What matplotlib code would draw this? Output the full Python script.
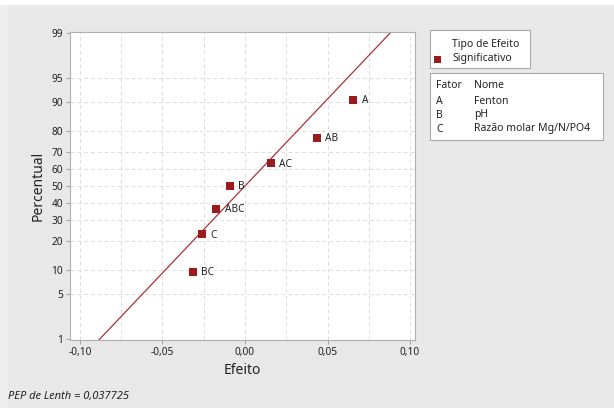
from statistics import NormalDist

import matplotlib
matplotlib.use('Agg')
import matplotlib.pyplot as plt
from matplotlib.patches import Rectangle

plt.rcParams['font.family'] = ['Noto Sans', 'DejaVu Sans']

# effects and their normal-plot percentiles
terms = ['BC', 'C', 'ABC', 'B', 'AC', 'AB', 'A']
effects = [-0.0317, -0.0259, -0.0174, -0.0093, 0.0158, 0.0435, 0.0656]
percents = [9.5, 23.0, 36.5, 50.0, 63.5, 77.0, 90.5]
pse = 0.037725

y_ticks = [1, 5, 10, 20, 30, 40, 50, 60, 70, 80, 90, 95, 99]
x_ticks = [-0.10, -0.05, 0.00, 0.05, 0.10]
x_grid = [-0.10, -0.075, -0.05, -0.025, 0.0, 0.025, 0.05, 0.075, 0.10]

factors = ['A', 'B', 'C']
names = ['Fenton', 'pH', 'Razão molar Mg/N/PO4']

RED = '#9c1a1e'
BG = '#e8e8e8'
W, H = 614, 408
nd = NormalDist()


def z(p):
    return nd.inv_cdf(p / 100.0)


def px(x, y):
    # pixel position (from top-left) to figure fraction
    return x / W, 1 - y / H


fig = plt.figure(figsize=(W / 100, H / 100), dpi=100, facecolor=BG)
# white strip along the top and lighter strip on the left
fig.patches.append(Rectangle((0, 1 - 5 / H), 1, 5 / H, transform=fig.transFigure,
                             facecolor='white', edgecolor='none', zorder=0))
fig.patches.append(Rectangle((0, 0), 8 / W, 1 - 5 / H, transform=fig.transFigure,
                             facecolor='#eeeeee', edgecolor='none', zorder=0))

ax = fig.add_axes([70 / W, 1 - 340 / H, 345 / W, 308 / H])
ax.set_facecolor('white')

ylo, yhi = z(1) - 0.02, z(99) + 0.02
ax.set_ylim(ylo, yhi)
ax.set_xlim(-0.106, 0.103)

for g in x_grid:
    ax.axvline(g, color='#dcdcdc', lw=0.7, ls=(0, (4, 3)), zorder=0)
for p in y_ticks[1:-1]:
    ax.axhline(z(p), color='#dcdcdc', lw=0.7, ls=(0, (4, 3)), zorder=0)

# reference line through zero with slope set by Lenth's PSE
ax.plot([pse * ylo, pse * yhi], [ylo, yhi], color='#a8323a', lw=0.9, zorder=2)

zs = [z(p) for p in percents]
ax.scatter(effects, zs, marker='s', s=34, color=RED, zorder=3, linewidths=0)
for t, x, y in zip(terms, effects, zs):
    ax.annotate(t, (x, y), xytext=(6, -0.5), textcoords='offset points',
                va='center', ha='left', fontsize=7.3, color='#222222')

ax.set_yticks([z(p) for p in y_ticks])
ax.set_yticklabels([str(p) for p in y_ticks])
ax.set_xticks(x_ticks)
ax.set_xticklabels([f'{v:.2f}'.replace('.', ',') for v in x_ticks])
ax.tick_params(labelsize=7.3, colors='#222222', length=3, width=0.6,
               color='#999999', pad=2)

for s in ax.spines.values():
    s.set_color('#b0b0b0')
    s.set_linewidth(0.8)

ax.set_xlabel('Efeito', fontsize=10, color='#222222', labelpad=4)
ax.set_ylabel('Percentual', fontsize=10, color='#222222', labelpad=4)

# legend boxes on the right
for (x0, y0, x1, y1) in [(430, 30, 530, 68), (430, 73, 603, 140)]:
    fx, fy = px(x0, y1)
    fig.patches.append(Rectangle((fx, fy), (x1 - x0) / W, (y1 - y0) / H,
                                 transform=fig.transFigure, facecolor='white',
                                 edgecolor='#a8a8a8', linewidth=0.8, zorder=1))

fs = 7.5
fig.text(*px(452, 44), 'Tipo de Efeito', fontsize=fs, va='center', color='#222222')
fig.patches.append(Rectangle(px(434, 63), 7 / W, 7 / H, transform=fig.transFigure,
                             facecolor=RED, edgecolor='none', zorder=2))
fig.text(*px(452, 59), 'Significativo', fontsize=fs, va='center', color='#222222')

fig.text(*px(436, 86), 'Fator', fontsize=fs, va='center', color='#222222')
fig.text(*px(474, 86), 'Nome', fontsize=fs, va='center', color='#222222')
for i, (f, n) in enumerate(zip(factors, names)):
    yy = 101 + i * 14
    fig.text(*px(436, yy), f, fontsize=fs, va='center', color='#222222')
    fig.text(*px(474, yy), n, fontsize=fs, va='center', color='#222222')

fig.text(*px(8, 397), 'PEP de Lenth = 0,037725', fontsize=8, style='italic',
         va='center', color='#222222')

fig.savefig('out.png', dpi=100, facecolor=BG)
